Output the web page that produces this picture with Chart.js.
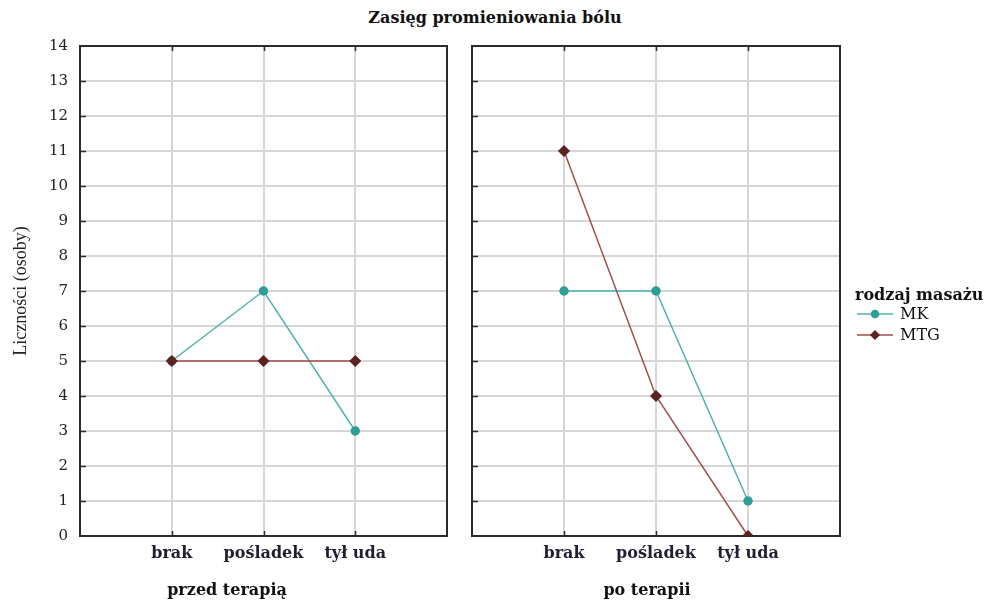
<!DOCTYPE html>
<html>
<head>
<meta charset="utf-8">
<script src="https://cdn.jsdelivr.net/npm/chart.js@4/dist/chart.umd.min.js"></script>
<style>
  html, body { margin: 0; padding: 0; background: #fff; }
  #wrap { position: relative; width: 985px; height: 601px; overflow: hidden; }
  #title { position: absolute; left: 0; width: 990px; top: 8px; text-align: center;
           font: bold 16px "DejaVu Serif"; color: #111; }
  canvas { position: absolute; top: 0; }
</style>
</head>
<body>
<div id="wrap">
  <div id="title">Zasięg promieniowania bólu</div>
  <canvas id="before" width="460" height="601" style="left:0"></canvas>
  <canvas id="after" width="525" height="601" style="left:460px"></canvas>
</div>
<script>
// Pain radiation extent, counts per massage type, before and after therapy
const categories = ['brak', 'pośladek', 'tył uda'];
const panelTitles = ['przed terapią', 'po terapii'];
const seriesNames = ['MK', 'MTG'];
const mkBefore = [5, 7, 3];
const mtgBefore = [5, 5, 5];
const mkAfter = [7, 7, 1];
const mtgAfter = [11, 4, 0];
const yMin = 0, yMax = 14, yStep = 1;

const MK_LINE = '#4fb3ad', MK_POINT = '#2f9d98';
const MTG_LINE = '#a44d4d', MTG_POINT = '#5c2323';
const GRID = '#d7d7d7';
const FRAME = '#2b2b2b';
const TEXT = '#1f1f33';
const BOLD = { family: 'DejaVu Serif', weight: 'bold', size: 16 };

function toPoints(values) {
  return values.map((v, i) => ({ x: i + 1, y: v }));
}

function makeDatasets(mk, mtg) {
  return [
    { label: seriesNames[0], data: toPoints(mk), borderColor: MK_LINE, backgroundColor: MK_POINT,
      pointBorderColor: MK_POINT, pointBackgroundColor: MK_POINT, pointStyle: 'circle',
      pointRadius: 4, borderWidth: 1.5, clip: 0, order: 2 },
    { label: seriesNames[1], data: toPoints(mtg), borderColor: MTG_LINE, backgroundColor: MTG_POINT,
      pointBorderColor: MTG_POINT, pointBackgroundColor: MTG_POINT, pointStyle: 'rectRot',
      pointRadius: 5, borderWidth: 1.5, clip: 0, order: 1 }
  ];
}

// Box around the plot area with short inward tick marks
const framePlugin = {
  id: 'frame',
  beforeDatasetsDraw(chart) {
    const { ctx, chartArea: a, scales } = chart;
    ctx.save();
    ctx.strokeStyle = FRAME;
    ctx.lineWidth = 2;
    ctx.strokeRect(a.left, a.top, a.right - a.left, a.bottom - a.top);
    ctx.lineWidth = 1.5;
    ctx.beginPath();
    for (let v = yMin + yStep; v < yMax; v += yStep) {
      const y = Math.round(scales.y.getPixelForValue(v)) + 0.5;
      ctx.moveTo(a.left, y); ctx.lineTo(a.left + 6, y);
    }
    categories.forEach((c, i) => {
      const x = Math.round(scales.x.getPixelForValue(i + 1)) + 0.5;
      ctx.moveTo(x, a.bottom); ctx.lineTo(x, a.bottom - 5);
      ctx.moveTo(x, a.top); ctx.lineTo(x, a.top + 5);
    });
    ctx.stroke();
    ctx.restore();
  }
};

// Panel caption under the category labels
const panelCaption = {
  id: 'panelCaption',
  afterDraw(chart, args, opts) {
    const { ctx, chartArea: a } = chart;
    ctx.save();
    ctx.fillStyle = '#111';
    ctx.font = `bold ${BOLD.size}px "${BOLD.family}"`;
    ctx.textAlign = 'center';
    ctx.textBaseline = 'middle';
    ctx.fillText(opts.text, a.left + opts.offset, 591);
    ctx.restore();
  }
};

// Legend drawn beside the right panel
const sideLegend = {
  id: 'sideLegend',
  afterDraw(chart) {
    const { ctx } = chart;
    const x0 = chart.chartArea.right + 15;
    ctx.save();
    ctx.fillStyle = '#111';
    ctx.textBaseline = 'middle';
    ctx.font = 'bold 16px "DejaVu Serif"';
    ctx.fillText('rodzaj masażu', x0, 296);
    const rows = [
      { y: 314, line: MK_LINE, point: MK_POINT, style: 'circle', r: 3.5 },
      { y: 335, line: MTG_LINE, point: MTG_POINT, style: 'rectRot', r: 4 }
    ];
    ctx.font = '16px "DejaVu Serif"';
    rows.forEach((row, i) => {
      ctx.strokeStyle = row.line;
      ctx.lineWidth = 1.5;
      ctx.beginPath();
      ctx.moveTo(x0 + 2, row.y); ctx.lineTo(x0 + 38, row.y);
      ctx.stroke();
      ctx.fillStyle = row.point;
      ctx.strokeStyle = row.point;
      Chart.helpers.drawPoint(ctx, { pointStyle: row.style, radius: row.r, borderWidth: 1 }, x0 + 20, row.y);
      ctx.fillStyle = '#111';
      ctx.fillText(chart.data.datasets[i].label, x0 + 45, row.y + 1);
    });
    ctx.restore();
  }
};

function makeChart(canvasId, panelTitle, captionOffset, mk, mtg, isFirst) {
  const plugins = [framePlugin, panelCaption];
  if (!isFirst) plugins.push(sideLegend);
  return new Chart(document.getElementById(canvasId), {
    type: 'line',
    data: { datasets: makeDatasets(mk, mtg) },
    plugins,
    options: {
      responsive: false,
      animation: false,
      devicePixelRatio: 1,
      layout: { padding: { top: 46, right: isFirst ? 13 : 145, left: 0, bottom: 0 } },
      plugins: {
        legend: { display: false }, tooltip: { enabled: false }, title: { display: false },
        panelCaption: { text: panelTitle, offset: captionOffset }
      },
      scales: {
        x: {
          type: 'linear', min: 0, max: categories.length + 1,
          afterBuildTicks: s => { s.ticks = categories.map((c, i) => ({ value: i + 1 })); },
          afterFit: s => { s.height = 65; },
          ticks: {
            callback: v => categories[v - 1] || '',
            autoSkip: false, maxRotation: 0, padding: 8, color: TEXT,
            font: BOLD
          },
          grid: { color: GRID, lineWidth: 2, drawTicks: false },
          border: { display: false }
        },
        y: {
          min: yMin, max: yMax,
          afterFit: s => { s.width = isFirst ? 80 : 12; },
          ticks: {
            display: isFirst, stepSize: yStep, padding: 12, color: '#222',
            font: { family: 'DejaVu Serif', size: 15 }
          },
          grid: { color: GRID, lineWidth: 2, drawTicks: false },
          border: { display: false },
          title: {
            display: isFirst, text: 'Liczności (osoby)', color: '#222',
            font: { family: 'Liberation Serif', size: 18 },
            padding: { top: 10, bottom: 0 }
          }
        }
      }
    }
  });
}

makeChart('before', panelTitles[0], 147, mkBefore, mtgBefore, true);
makeChart('after', panelTitles[1], 175, mkAfter, mtgAfter, false);
</script>
</body>
</html>
